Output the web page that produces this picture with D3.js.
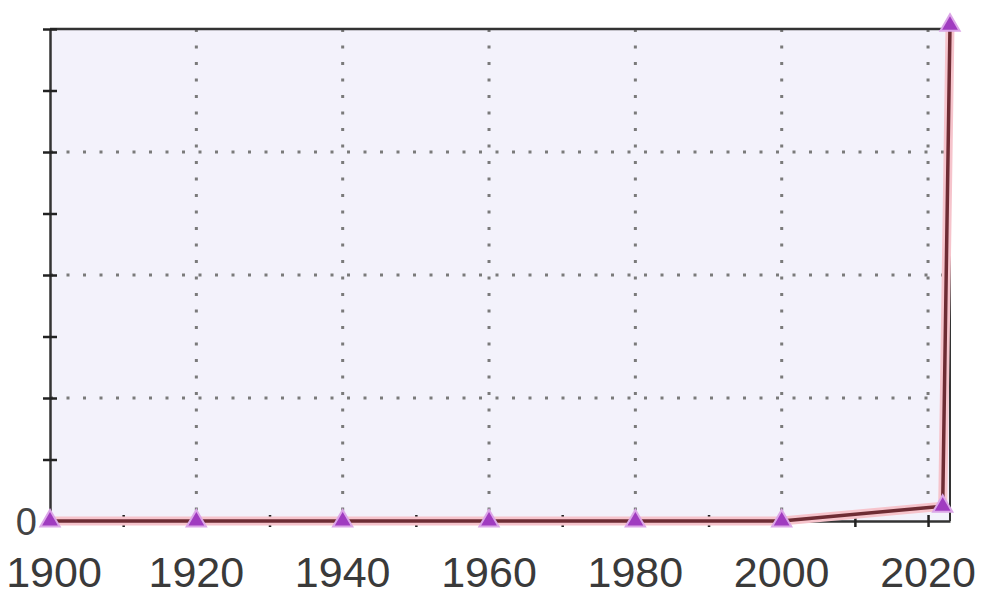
<!DOCTYPE html>
<html>
<head>
<meta charset="utf-8">
<script src="https://cdn.jsdelivr.net/npm/d3@7"></script>
<style>
  body { margin: 0; background: #fff; }
  svg { display: block; }
</style>
</head>
<body>
<svg id="chart" width="981" height="601"></svg>
<script>
// data
const years = [1900, 1920, 1940, 1960, 1980, 2000, 2022, 2023];
const values = [0, 0, 0, 0, 0, 0, 0.12, 4.03];
const xTickLabels = [1900, 1920, 1940, 1960, 1980, 2000, 2020];
const yGridValues = [1, 2, 3];

const svg = d3.select('#chart');
const margin = {top: 29, right: 31, bottom: 80, left: 50};
const width = 981 - margin.left - margin.right;
const height = 601 - margin.top - margin.bottom;

const x = d3.scaleLinear().domain([1900, 2023]).range([margin.left, margin.left + width]);
const y = d3.scaleLinear().domain([0, 4]).range([margin.top + height, margin.top]);

// plot background
svg.append('rect')
    .attr('x', x(1900))
    .attr('y', y(4))
    .attr('width', x(2023) - x(1900))
    .attr('height', y(0) - y(4))
    .attr('fill', '#f3f2fb');

// dotted grid
svg.append('g')
    .selectAll('line')
    .data(xTickLabels.slice(1))
    .enter().append('line')
    .attr('x1', d => x(d)).attr('x2', d => x(d))
    .attr('y1', y(4)).attr('y2', y(0))
    .attr('stroke', '#7a7a7a')
    .attr('stroke-width', 3)
    .attr('stroke-dasharray', '3,13.5');

svg.append('g')
    .selectAll('line')
    .data(yGridValues)
    .enter().append('line')
    .attr('x1', x(1900)).attr('x2', x(2023))
    .attr('y1', d => y(d)).attr('y2', d => y(d))
    .attr('stroke', '#7a7a7a')
    .attr('stroke-width', 3)
    .attr('stroke-dasharray', '3,13.5');

// frame: top and right
svg.append('line')
    .attr('x1', x(1900)).attr('x2', x(2023))
    .attr('y1', y(4)).attr('y2', y(4))
    .attr('stroke', '#333').attr('stroke-width', 2.5);
svg.append('line')
    .attr('x1', x(2023)).attr('x2', x(2023))
    .attr('y1', y(4)).attr('y2', y(0))
    .attr('stroke', '#333').attr('stroke-width', 2);

// y axis (ticks cross the line, only 0 labelled)
const yAxis = d3.axisLeft(y)
    .tickValues(d3.range(0, 4.01, 0.5))
    .tickSize(0)
    .tickFormat('');
const gy = svg.append('g')
    .attr('transform', `translate(${x(1900)},0)`)
    .call(yAxis);
gy.select('.domain').attr('stroke', '#333').attr('stroke-width', 2.5);
gy.selectAll('.tick line')
    .attr('x1', -7).attr('x2', 7)
    .attr('stroke', '#222').attr('stroke-width', 2.5);

svg.append('text')
    .attr('x', 37)
    .attr('y', y(0) + 14)
    .attr('text-anchor', 'end')
    .attr('font-family', 'Liberation Sans, Arial, sans-serif')
    .attr('font-size', '38px')
    .attr('fill', '#444')
    .text('0');

// x axis
const xAxis = d3.axisBottom(x)
    .tickValues(d3.range(1900, 2021, 10))
    .tickSize(0)
    .tickFormat('');
const gx = svg.append('g')
    .attr('transform', `translate(0,${y(0)})`)
    .call(xAxis);
gx.select('.domain').attr('stroke', '#333').attr('stroke-width', 2.5);
gx.selectAll('.tick line')
    .attr('y1', -6).attr('y2', 6)
    .attr('stroke', '#222').attr('stroke-width', 2.5);

svg.append('g')
    .selectAll('text')
    .data(xTickLabels)
    .enter().append('text')
    .attr('x', d => x(d) + (d === 1900 ? 4 : 0))
    .attr('y', 587)
    .attr('text-anchor', 'middle')
    .attr('font-family', 'Liberation Sans, Arial, sans-serif')
    .attr('font-size', '43px')
    .attr('fill', '#3a3a3a')
    .text(d => d);

// series
const pts = years.map((yr, i) => ({year: yr, value: values[i]}));
const line = d3.line()
    .x(d => x(d.year))
    .y(d => y(d.value));

svg.append('path')
    .datum(pts)
    .attr('fill', 'none')
    .attr('stroke', '#f6c4cc')
    .attr('stroke-width', 9)
    .attr('stroke-linejoin', 'round')
    .attr('d', line);

svg.append('path')
    .datum(pts)
    .attr('fill', 'none')
    .attr('stroke', '#6e2c34')
    .attr('stroke-width', 3.5)
    .attr('stroke-linejoin', 'round')
    .attr('d', line);

const tri = d3.symbol().type(d3.symbolTriangle).size(160);
svg.append('g')
    .selectAll('path')
    .data(pts)
    .enter().append('path')
    .attr('transform', d => `translate(${x(d.year)},${y(d.value)})`)
    .attr('d', tri)
    .attr('fill', '#a03cc0')
    .attr('stroke', '#dca6e8')
    .attr('stroke-width', 2);
</script>
</body>
</html>
